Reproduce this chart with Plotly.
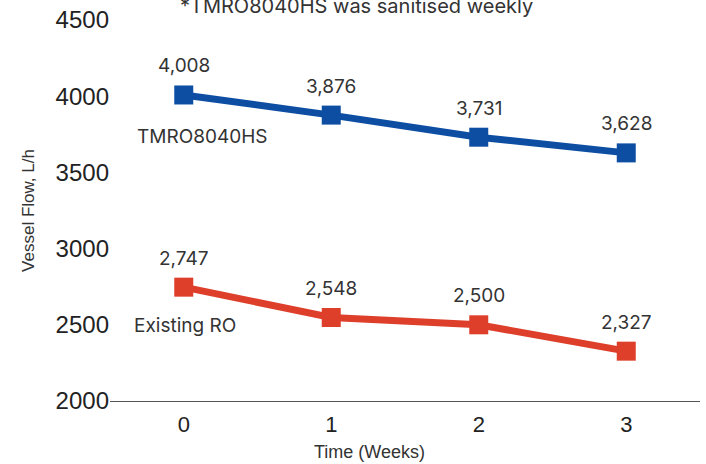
import plotly.graph_objects as go

weeks = ["0", "1", "2", "3"]
tmro_values = [4008, 3876, 3731, 3628]
existing_values = [2747, 2548, 2500, 2327]
series_names = ["TMRO8040HS", "Existing RO"]
title_text = "*TMRO8040HS was sanitised weekly"
y_ticks = [2000, 2500, 3000, 3500, 4000, 4500]

blue = "#0d4ea3"
red = "#de3f2b"
label_font = dict(family="Inter", size=19, color="#333333")
tick_font = dict(family="Liberation Sans", size=24, color="#222222")

fig = go.Figure()
for vals, color in [(tmro_values, blue), (existing_values, red)]:
    fig.add_trace(go.Scatter(
        x=weeks, y=vals, mode="lines+markers",
        line=dict(color=color, width=7),
        marker=dict(symbol="square", size=19, color=color),
        showlegend=False,
    ))
    for xv, yv in zip(weeks, vals):
        fig.add_annotation(x=xv, y=yv, text=f"{yv:,}", showarrow=False,
                           yshift=29, font=label_font)

fig.add_annotation(x=0, y=tmro_values[0], text=series_names[0], showarrow=False,
                   xshift=19, yshift=-42, font=label_font)
fig.add_annotation(x=0, y=existing_values[0], text=series_names[1], showarrow=False,
                   xshift=1, yshift=-38, font=label_font)

fig.add_annotation(xref="paper", yref="paper", x=0.417, y=1.0, yshift=14,
                   yanchor="middle", text=title_text, showarrow=False,
                   font=dict(family="Inter", size=20, color="#333333"))
fig.add_annotation(xref="paper", yref="paper", x=0.44, y=0, yshift=-51,
                   yanchor="middle", text="Time (Weeks)", showarrow=False,
                   font=dict(family="Liberation Sans", size=18, color="#333333"))

fig.update_layout(
    width=706, height=464,
    margin=dict(l=110, r=6, t=20, b=63),
    plot_bgcolor="white", paper_bgcolor="white",
    xaxis=dict(type="category", range=[-0.5, 3.5], showgrid=False,
               showline=True, linecolor="#555555", linewidth=1,
               ticks="", tickfont=dict(family="Liberation Sans", size=22, color="#222222"),
               ticklabelstandoff=4, automargin=False),
    yaxis=dict(range=[2000, 4500], tickvals=y_ticks, showgrid=False,
               showline=False, zeroline=False, ticks="",
               tickfont=tick_font, automargin=False,
               title=dict(text="Vessel Flow, L/h", standoff=16,
                          font=dict(family="Liberation Sans", size=17, color="#333333"))),
)

fig.write_html("out.html", config={"displayModeBar": False},
               post_script="document.body.style.margin='0';")
